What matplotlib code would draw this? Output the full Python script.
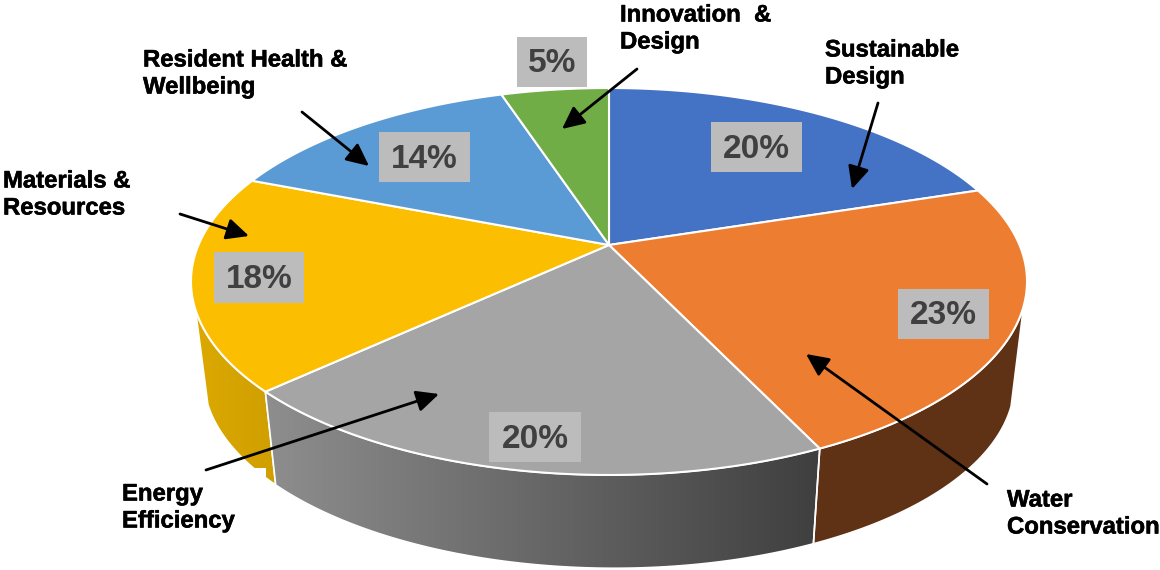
import numpy as np
import matplotlib
matplotlib.use("Agg")
import matplotlib.pyplot as plt
import matplotlib.patheffects as pe
from matplotlib.patches import Polygon, Rectangle

plt.rcParams['font.family'] = ['Liberation Sans', 'DejaVu Sans']

categories = ["Sustainable Design", "Water Conservation", "Energy Efficiency",
              "Materials & Resources", "Resident Health & Wellbeing", "Innovation & Design"]
shares = [20, 23, 20, 18, 14, 5]
tick_labels = ["20%", "23%", "20%", "18%", "14%", "5%"]
callouts = ["Sustainable\nDesign", "Water\nConservation", "Energy\nEfficiency",
            "Materials &\nResources", "Resident Health &\nWellbeing", "Innovation  &\nDesign"]

top_colors = ["#4472C4", "#ED7D31", "#A5A5A5", "#FBBE00", "#5B9BD5", "#70AD47"]

# layout (pixel-based axes)
CX, CY, A, B, K = 609, 245, 410.5, 186.6, 0.1886
DEPTH, TILT, SCALE_X, SCALE_Y = 99, 0.006, 0.97, 0.975
box_rects = [(711, 122, 91, 50), (898, 289, 91, 50), (489, 412, 92, 50),
             (214, 252, 90, 51), (379, 132, 91, 50), (517, 37, 70, 50)]
callout_xy = [(825, 48), (1007, 498), (122, 492), (3, 179), (143, 58), (620, 13)]
arrow_from = [(878, 103), (987, 484), (206, 470), (180, 214), (302, 112), (637, 69)]
arrow_to = [(852, 189), (806, 354), (439, 394), (249, 236), (369, 166), (562, 129)]


def rim(theta):
    """Perspective projection of the pie's top rim; theta clockwise from 12 o'clock."""
    x, y = np.sin(theta), np.cos(theta)
    w = 1 + K * y
    return CX + A * x / w, CY - B * y / w


def lower(theta):
    px, py = rim(theta)
    return (CX + SCALE_X * (px - CX),
            CY + DEPTH + TILT * (px - CX) + SCALE_Y * (py - CY))


def side_poly(t0, t1):
    t = np.linspace(t0, t1, 120)
    xt, yt = rim(t)
    xb, yb = lower(t[::-1])
    return np.column_stack([np.r_[xt, xb], np.r_[yt, yb]])


fig = plt.figure(figsize=(11.6, 5.7), dpi=100)
ax = fig.add_axes([0, 0, 1, 1])
ax.set_xlim(0, 1160)
ax.set_ylim(570, 0)
ax.axis("off")

edges = np.radians(np.r_[0, np.cumsum(shares)] * 3.6)


def gradient_side(poly, c0, c1, z):
    p = Polygon(poly, closed=True, fc="none", ec="none", transform=ax.transData)
    ax.add_patch(p)
    x0, x1 = poly[:, 0].min(), poly[:, 0].max()
    y0, y1 = poly[:, 1].min(), poly[:, 1].max()
    c0, c1 = np.array(matplotlib.colors.to_rgb(c0)), np.array(matplotlib.colors.to_rgb(c1))
    f = np.linspace(0, 1, 256)[:, None]
    img = (c0 + (c1 - c0) * f)[None, :, :]
    im = ax.imshow(img, extent=(x0, x1, y1, y0), aspect="auto", zorder=z, interpolation="bilinear")
    im.set_clip_path(p)
    ax.set_xlim(0, 1160)
    ax.set_ylim(570, 0)
    ax.add_patch(Polygon(poly, closed=True, fc="none", ec="white", lw=1.2, zorder=z + 0.1))


gradient_side(side_poly(edges[3], np.radians(251)), "#DCA900", "#CF9F00", 1)
gradient_side(side_poly(edges[2], edges[3]), "#8E8E8E", "#3F3F3F", 2)
ax.add_patch(Polygon(side_poly(np.radians(108), edges[2]), closed=True,
                     fc="#5F3115", ec="white", lw=1.2, zorder=2))

# white patch behind the "Energy Efficiency" callout
ax.add_patch(Rectangle((100, 468), 166, 60, fc="white", ec="none", zorder=3))

# top wedges
for i, col in enumerate(top_colors):
    t = np.linspace(edges[i], edges[i + 1], 120)
    x, y = rim(t)
    poly = np.column_stack([np.r_[CX, x], np.r_[CY, y]])
    ax.add_patch(Polygon(poly, closed=True, fc=col, ec="white", lw=1.5, zorder=4, joinstyle="round"))

# percentage labels
for (x, y, w, h), s in zip(box_rects, tick_labels):
    ax.add_patch(Rectangle((x, y), w, h, fc="#BCBCBC", ec="none", zorder=5))
    ax.text(x + w / 2, y + h / 2 + 2, s, ha="center", va="center", color="#404040",
            fontsize=24, fontweight="bold", zorder=6)

# callouts
for s, (x, y), a, b in zip(callouts, callout_xy, arrow_from, arrow_to):
    l1, l2 = s.split("\n")
    for k, line in enumerate((l1, l2)):
        ax.text(x, y + 2 + 27 * k, line, ha="left", va="center", fontsize=17.2, fontweight="bold",
                color="black", zorder=8,
                path_effects=[pe.withStroke(linewidth=0.4, foreground="black")])
    ax.annotate("", xy=b, xytext=a, zorder=7,
                arrowprops=dict(arrowstyle="-|>,head_length=0.8,head_width=0.38", color="black",
                                lw=2.0, shrinkA=0, shrinkB=0, mutation_scale=17))

fig.savefig("out.png", dpi=100, facecolor="white")
